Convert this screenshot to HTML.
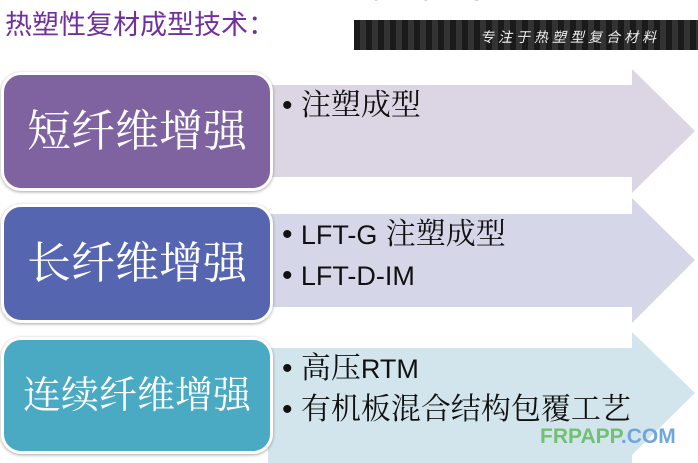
<!DOCTYPE html>
<html><head><meta charset="utf-8"><style>
body{margin:0;width:698px;height:463px;overflow:hidden;background:#fff;position:relative;font-family:"Liberation Sans","Noto Sans CJK SC",sans-serif}
.a{position:absolute}
.box{position:absolute;left:1px;width:272px;border:3px solid #fff;border-radius:20px;box-shadow:0 1px 3px rgba(0,0,0,.35);color:#fff;font-family:"Liberation Serif","Noto Serif CJK SC",serif;font-size:44px;display:flex;align-items:center;justify-content:center;box-sizing:border-box;line-height:1}
.t{position:absolute;left:282px;font-size:30px;color:#111;white-space:nowrap;line-height:1;font-family:"Liberation Sans","Noto Serif CJK SC",serif}
.t b{font-weight:normal;font-family:"Liberation Sans",sans-serif;font-size:27px}
</style></head><body>
<svg class="a" style="left:0;top:0" width="698" height="463">
<polygon points="268,85 632,85 632,69 695,131 632,193 632,177 268,177" fill="#dcd6e4"/>
<polygon points="268,214 632,214 632,198 695,260 632,323 632,307 268,307" fill="#d5d7e8"/>
<polygon points="268,348 632,348 632,332 695,393 632,455 632,463 268,463" fill="#d3e5ec"/>
</svg>
<div class="a" style="left:366px;top:0;width:180px;height:4px;overflow:hidden"><div style="margin-top:-22px;font-size:26px;font-weight:bold;color:#3a2050;letter-spacing:6px;line-height:1">CRCMS</div></div>
<div class="a" style="left:5px;top:9px;font-size:27px;color:#7030a0;white-space:nowrap;line-height:1.2">热塑性复材成型技术：</div>
<div class="a" style="left:354px;top:20px;width:344px;height:30px;background:repeating-linear-gradient(90deg,#1a1a1a 0 6px,#333 6px 12px);"></div>
<div class="a" style="left:480px;top:27px;font-size:14px;color:#eee;font-style:italic;letter-spacing:4px;white-space:nowrap">专注于热塑型复合材料</div>
<div class="box" style="top:72px;height:119px;background:#7f62a0">短纤维增强</div>
<div class="box" style="top:204px;height:119px;background:#5565b0">长纤维增强</div>
<div class="box" style="top:337px;height:117px;background:#4aaac4;font-size:38px">连续纤维增强</div>
<div class="t" style="top:91px">• 注塑成型</div>
<div class="t" style="top:220px">• <b>LFT-G</b> 注塑成型</div>
<div class="t" style="top:261px">• <b>LFT-D-IM</b></div>
<div class="t" style="top:354px">• 高压<b>RTM</b></div>
<div class="t" style="top:395px">• 有机板混合结构包覆工艺</div>
<div class="a" style="left:540px;top:425px;font-size:21px;font-weight:bold;white-space:nowrap"><span style="color:#72c172">FRPAPP</span><span style="color:#6fa6dc">.COM</span></div>
</body></html>
